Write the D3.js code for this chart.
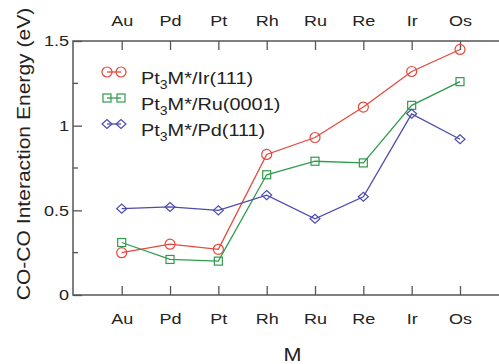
<!DOCTYPE html>
<html>
<head>
<meta charset="utf-8">
<script src="https://cdn.jsdelivr.net/npm/d3@7"></script>
<style>
  body { margin: 0; background: #fff; }
  text { font-family: "Liberation Sans", Arial, sans-serif; fill: #222; }
</style>
</head>
<body>
<svg id="canvas"></svg>
<script>
const metals = ["Au", "Pd", "Pt", "Rh", "Ru", "Re", "Ir", "Os"];
const irValues = [0.25, 0.30, 0.27, 0.83, 0.93, 1.11, 1.32, 1.45];
const ruValues = [0.31, 0.21, 0.20, 0.71, 0.79, 0.78, 1.12, 1.26];
const pdValues = [0.51, 0.52, 0.50, 0.59, 0.45, 0.58, 1.07, 0.92];
const yTicks = [0, 0.5, 1, 1.5];
const yMinorTicks = [0.25, 0.75, 1.25];
const seriesNames = ["Ir(111)", "Ru(0001)", "Pd(111)"];

const width = 499;
const height = 364;
const plotLeft = 73, plotTop = 41, plotBottom = 295, plotRight = 509;

const canvas = d3.select("#canvas").attr("width", width).attr("height", height);

const xScale = d3.scalePoint().domain(metals).range([121.7, 460]);
const yScale = d3.scaleLinear().domain([0, 1.5]).range([plotBottom, plotTop]);

const series = [
  { name: seriesNames[0], values: irValues, color: "#e5483d", shape: "circle" },
  { name: seriesNames[1], values: ruValues, color: "#2e9c4c", shape: "square" },
  { name: seriesNames[2], values: pdValues, color: "#4b4bb0", shape: "diamond" },
];

const axisColor = "#555";
const stretch = "scale(1.2,1)";

// axes
const xTop = d3.axisTop(xScale).tickSize(-9).tickPadding(15);
const xBottom = d3.axisBottom(xScale).tickSize(-9).tickPadding(18);
const yLeft = d3.axisLeft(yScale).tickValues(yTicks).tickSize(-9).tickPadding(14)
  .tickFormat(d => d === 0 ? "0" : d === 1 ? "1" : d3.format(".1f")(d));

const styleAxis = (g) => {
  g.select(".domain").remove();
  g.selectAll("line").attr("stroke", axisColor).attr("stroke-width", 1.3);
  g.selectAll("text").attr("font-size", 15).attr("fill", "#222")
    .attr("font-family", "'Liberation Sans', Arial, sans-serif");
};

canvas.append("g").attr("transform", `translate(0,${plotTop})`).call(xTop).call(styleAxis)
  .selectAll("text").attr("transform", stretch);
canvas.append("g").attr("transform", `translate(0,${plotBottom})`).call(xBottom).call(styleAxis)
  .selectAll("text").attr("transform", stretch);
canvas.append("g").attr("transform", `translate(${plotLeft},0)`).call(yLeft).call(styleAxis)
  .selectAll("text").attr("text-anchor", "end").attr("x", 0)
  .attr("transform", "translate(-4,0) scale(1.2,1)");

// minor ticks on left axis
canvas.append("g").selectAll("line").data(yMinorTicks).enter().append("line")
  .attr("x1", plotLeft).attr("x2", plotLeft + 5)
  .attr("y1", d => yScale(d)).attr("y2", d => yScale(d))
  .attr("stroke", axisColor).attr("stroke-width", 1.3);

// frame
canvas.append("path")
  .attr("d", `M${plotRight},${plotTop}H${plotLeft}V${plotBottom}H${plotRight}`)
  .attr("fill", "none").attr("stroke", axisColor).attr("stroke-width", 1.5);

// markers
const drawMarker = (g, shape, color) => {
  if (shape === "circle") {
    g.append("circle").attr("r", 5);
  } else if (shape === "square") {
    g.append("rect").attr("x", -4).attr("y", -4).attr("width", 8).attr("height", 8);
  } else {
    g.append("path").attr("d", "M-5,0L0,-4.5L5,0L0,4.5Z");
  }
  g.selectAll("*").attr("fill", "none").attr("stroke", color).attr("stroke-width", 1.2);
};

const line = d3.line().x((d, i) => xScale(metals[i])).y(d => yScale(d));

series.forEach(s => {
  canvas.append("path").datum(s.values).attr("d", line)
    .attr("fill", "none").attr("stroke", s.color).attr("stroke-width", 1.3);
  canvas.append("g").selectAll("g").data(s.values).enter().append("g")
    .attr("transform", (d, i) => `translate(${xScale(metals[i])},${yScale(d)})`)
    .each(function () { drawMarker(d3.select(this), s.shape, s.color); });
});

// legend
const legend = canvas.append("g");
series.forEach((s, i) => {
  const y = 72 + i * 26;
  legend.append("line").attr("x1", 107).attr("x2", 121).attr("y1", y).attr("y2", y)
    .attr("stroke", s.color).attr("stroke-width", 1.3);
  [107, 121].forEach(x => {
    const g = legend.append("g").attr("transform", `translate(${x},${y})`);
    drawMarker(g, s.shape, s.color);
  });
  const t = legend.append("g").attr("transform", `translate(141,${y + 12}) scale(1.17,1)`)
    .append("text").attr("font-size", 17);
  t.append("tspan").text("Pt");
  t.append("tspan").attr("font-size", 12).attr("dy", 5).text("3");
  t.append("tspan").attr("dy", -5).text("M*/" + s.name);
});

// axis titles
canvas.append("g").attr("transform", `translate(30,154) rotate(-90) scale(1.17,1)`)
  .append("text").attr("text-anchor", "middle").attr("font-size", 18)
  .text("CO-CO Interaction Energy (eV)");

canvas.append("g").attr("transform", `translate(292.5,361) scale(1.2,1)`)
  .append("text").attr("text-anchor", "middle").attr("font-size", 18).text("M");
</script>
</body>
</html>
